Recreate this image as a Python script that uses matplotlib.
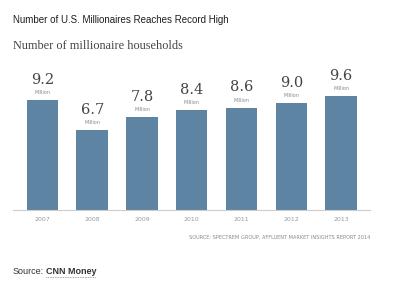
import matplotlib
matplotlib.use("Agg")
import matplotlib.pyplot as plt

years = ["2007", "2008", "2009", "2010", "2011", "2012", "2013"]
values = [9.2, 6.7, 7.8, 8.4, 8.6, 9.0, 9.6]

W, H = 400, 282
fig = plt.figure(figsize=(4, 2.82), dpi=100)
fig.patch.set_facecolor("white")

def fx(px): return px / W
def fy(py): return 1 - py / H

ax = fig.add_axes([fx(13), fy(210), fx(370) - fx(13), fy(60) - fy(210)])
x = range(len(years))
ax.bar(x, values, width=0.63, color="#5e84a4", zorder=2)
ax.set_xlim(-0.59, 6.58)
ax.set_ylim(0, 12.6)
for s in ["top", "right", "left"]:
    ax.spines[s].set_visible(False)
ax.spines["bottom"].set_color("#cccccc")
ax.spines["bottom"].set_linewidth(0.8)
ax.set_yticks([])
ax.set_xticks(list(x))
ax.set_xticklabels(years, fontsize=4.5, color="#999999")
ax.tick_params(axis="x", length=0, pad=5)

for xi, v in zip(x, values):
    ax.annotate(f"{v:.1f}", (xi, v), xytext=(0, 9.5), textcoords="offset points",
                ha="center", va="bottom", fontsize=10.5, family="DejaVu Serif", color="#444444")
    ax.annotate("Million", (xi, v), xytext=(0, 3.6), textcoords="offset points",
                ha="center", va="bottom", fontsize=3.5, color="#888888")

fig.text(fx(13), fy(20), "Number of U.S. Millionaires Reaches Record High",
         fontsize=7.0, family="Liberation Sans", color="#1e1e1e", va="center", ha="left")
fig.text(fx(13), fy(46), "Number of millionaire households",
         fontsize=8.8, family="Liberation Serif", color="#444444", va="center", ha="left")
fig.text(fx(370), fy(237), "SOURCE: SPECTREM GROUP, AFFLUENT MARKET INSIGHTS REPORT 2014",
         fontsize=3.6, color="#888888", va="center", ha="right")
fig.text(fx(13), fy(271), "Source:", fontsize=6.5, family="Liberation Sans",
         color="#333333", va="center", ha="left")
fig.text(fx(46), fy(271), "CNN Money", fontsize=6.5, family="Liberation Sans",
         color="#333333", va="center", ha="left", fontweight="bold")
fig.lines.append(plt.Line2D([fx(46), fx(96)], [fy(277), fy(277)], transform=fig.transFigure,
                            color="#888888", linewidth=0.6, linestyle=(0, (1, 1))))

fig.savefig("out.png", dpi=100, facecolor="white")
